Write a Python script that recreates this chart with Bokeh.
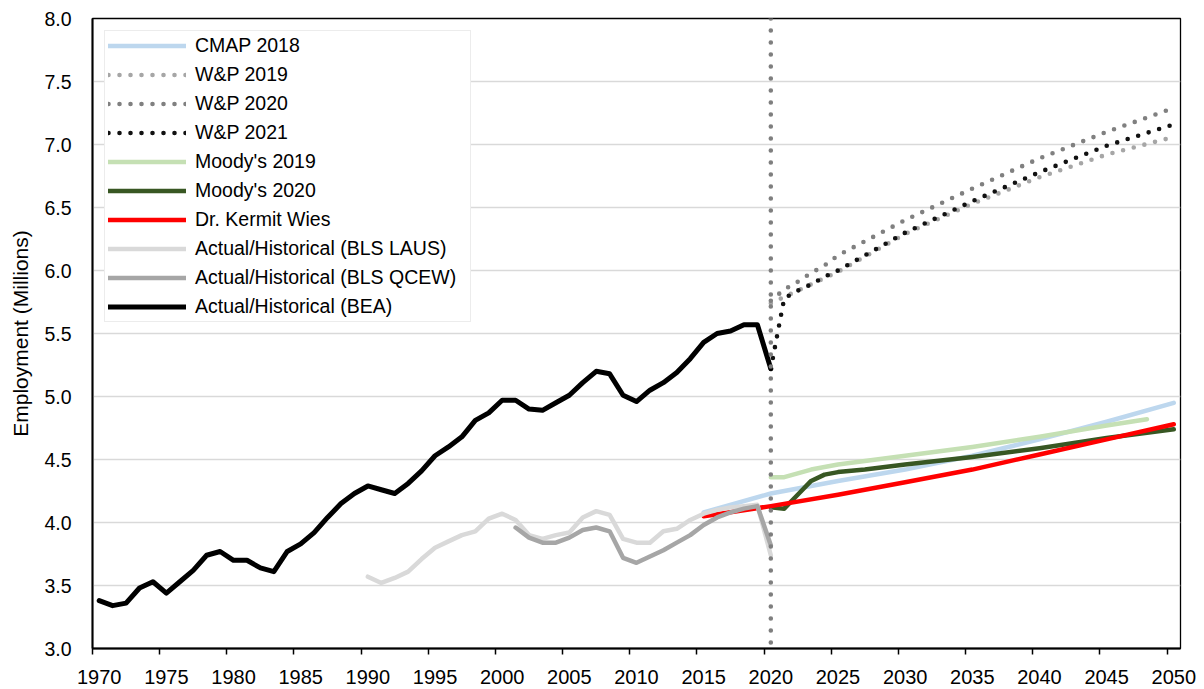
from bokeh.plotting import figure
from bokeh.models import (Range1d, FixedTicker, LinearAxis, Legend, LegendItem, Span,
                          NumeralTickFormatter, BasicTickFormatter)
from bokeh.embed import file_html
from bokeh.resources import INLINE

# ---------------- data ----------------
y_ticks = [3.0, 3.5, 4.0, 4.5, 5.0, 5.5, 6.0, 6.5, 7.0, 7.5, 8.0]
x_label_years = [1970, 1975, 1980, 1985, 1990, 1995, 2000, 2005, 2010, 2015, 2020,
                 2025, 2030, 2035, 2040, 2045, 2050]
divider_year = 2020

cmap2018_years = [2015, 2020, 2025, 2030, 2035, 2040, 2045, 2050]
cmap2018_vals = [4.08, 4.23, 4.33, 4.42, 4.53, 4.66, 4.80, 4.95]

wp2019_years = [2020, 2021, 2022, 2023, 2024, 2025, 2030, 2035, 2040, 2045, 2050]
wp2019_vals = [5.74, 5.79, 5.84, 5.89, 5.94, 5.99, 6.29, 6.53, 6.74, 6.92, 7.06]

wp2020_years = [2020, 2021, 2022, 2023, 2024, 2025, 2030, 2035, 2040, 2045, 2050]
wp2020_vals = [5.76, 5.85, 5.91, 5.98, 6.04, 6.12, 6.40, 6.65, 6.89, 7.10, 7.29]

wp2021_years = [2020, 2021, 2022, 2023, 2024, 2025, 2030, 2035, 2040, 2045, 2050]
wp2021_vals = [5.22, 5.78, 5.84, 5.89, 5.95, 6.00, 6.30, 6.55, 6.78, 6.99, 7.16]

moodys2019_years = [2020, 2021, 2022, 2023, 2024, 2025, 2030, 2035, 2040, 2045, 2048]
moodys2019_vals = [4.36, 4.36, 4.39, 4.42, 4.44, 4.46, 4.53, 4.60, 4.68, 4.77, 4.82]

moodys2020_years = [2020, 2021, 2022, 2023, 2024, 2025, 2026, 2027, 2030, 2035, 2040, 2045, 2050]
moodys2020_vals = [4.12, 4.11, 4.22, 4.33, 4.38, 4.40, 4.41, 4.42, 4.46, 4.52, 4.59, 4.67, 4.74]

wies_years = [2015, 2020, 2025, 2030, 2035, 2040, 2045, 2050]
wies_vals = [4.05, 4.13, 4.22, 4.32, 4.42, 4.54, 4.66, 4.78]

laus_years = list(range(1990, 2021))
laus_vals = [3.57, 3.52, 3.56, 3.61, 3.71, 3.80, 3.85, 3.90, 3.93, 4.03,
             4.07, 4.02, 3.90, 3.87, 3.90, 3.92, 4.04, 4.09, 4.06, 3.87,
             3.84, 3.84, 3.93, 3.95, 4.02, 4.07, 4.10, 4.12, 4.13, 4.14,
             3.74]

qcew_years = list(range(2001, 2021))
qcew_vals = [3.96, 3.88, 3.84, 3.84, 3.88, 3.94, 3.96, 3.93, 3.72,
             3.68, 3.73, 3.78, 3.84, 3.90, 3.98, 4.04, 4.08, 4.11, 4.13,
             3.82]

bea_years = list(range(1970, 2021))
bea_vals = [3.38, 3.34, 3.36, 3.48, 3.53, 3.44, 3.53, 3.62, 3.74, 3.77,
            3.70, 3.70, 3.64, 3.61, 3.77, 3.83, 3.92, 4.04, 4.15, 4.23,
            4.29, 4.26, 4.23, 4.31, 4.41, 4.53, 4.60, 4.68, 4.81, 4.87,
            4.97, 4.97, 4.90, 4.89, 4.95, 5.01, 5.11, 5.20, 5.18, 5.01,
            4.96, 5.05, 5.11, 5.19, 5.30, 5.43, 5.50, 5.52, 5.57, 5.57,
            5.22]

series = [
    ("CMAP 2018", cmap2018_years, cmap2018_vals, "#BDD7EE", None),
    ("W&P 2019", wp2019_years, wp2019_vals, "#A6A6A6", "dot"),
    ("W&P 2020", wp2020_years, wp2020_vals, "#808080", "dot"),
    ("W&P 2021", wp2021_years, wp2021_vals, "#111111", "dot"),
    ("Moody's 2019", moodys2019_years, moodys2019_vals, "#C5E0B4", None),
    ("Moody's 2020", moodys2020_years, moodys2020_vals, "#385723", None),
    ("Dr. Kermit Wies", wies_years, wies_vals, "#FF0000", None),
    ("Actual/Historical (BLS LAUS)", laus_years, laus_vals, "#D9D9D9", None),
    ("Actual/Historical (BLS QCEW)", qcew_years, qcew_vals, "#A6A6A6", None),
    ("Actual/Historical (BEA)", bea_years, bea_vals, "#000000", None),
]

FONT = "Liberation Sans"

# ---------------- figure ----------------
p = figure(width=1204, height=689,
           x_range=Range1d(1969.5, 2050.5), y_range=Range1d(3.0, 8.0),
           output_backend="svg", toolbar_location=None,
           min_border_left=92, min_border_right=24, min_border_top=18, min_border_bottom=41,
           background_fill_color="white", border_fill_color="white")
p.outline_line_color = "#000000"
p.outline_line_width = 1.3
p.xgrid.grid_line_color = None
p.ygrid.ticker = FixedTicker(ticks=y_ticks)
p.ygrid.grid_line_color = "#D9D9D9"
p.ygrid.grid_line_width = 1.6

# y axis
ya = p.yaxis[0]
ya.ticker = FixedTicker(ticks=y_ticks)
ya.formatter = NumeralTickFormatter(format="0.0")
ya.axis_line_color = "#000000"
ya.axis_line_width = 2
ya.major_tick_line_color = None
ya.minor_tick_line_color = None
ya.major_tick_out = 0
ya.major_tick_in = 0
ya.major_label_standoff = 21
ya.major_label_text_font = FONT
ya.major_label_text_font_size = "19.5px"
ya.major_label_text_color = "#000000"
ya.axis_label = "Employment (Millions)"
ya.axis_label_text_font = FONT
ya.axis_label_text_font_size = "21px"
ya.axis_label_text_font_style = "normal"
ya.axis_label_text_color = "#000000"
ya.axis_label_standoff = 9

# x axis: tick marks at category boundaries (no labels)
xa = p.xaxis[0]
boundaries = [y - 0.5 for y in x_label_years]
xa.ticker = FixedTicker(ticks=boundaries, minor_ticks=[])
xa.major_label_overrides = {b: "" for b in boundaries}
xa.major_label_text_font_size = "0px"
xa.major_label_standoff = 0
xa.axis_line_color = "#000000"
xa.axis_line_width = 2
xa.major_tick_line_color = "#000000"
xa.major_tick_line_width = 1.5
xa.major_tick_out = 6
xa.major_tick_in = 0
xa.minor_tick_line_color = None

# x axis labels at category centres
xl = LinearAxis(ticker=FixedTicker(ticks=x_label_years, minor_ticks=[]),
                formatter=BasicTickFormatter(use_scientific=False))
xl.axis_line_color = None
xl.major_tick_line_color = None
xl.minor_tick_line_color = None
xl.major_tick_out = 0
xl.major_tick_in = 0
xl.major_label_standoff = 15
xl.major_label_text_font = FONT
xl.major_label_text_font_size = "20px"
xl.major_label_text_color = "#000000"
p.add_layout(xl, "below")

# ---------------- lines ----------------
items = []
for name, xs, ys, color, style in series:
    if style == "dot":
        r = p.line(xs, ys, line_color=color, line_width=4.6, line_dash="0 11",
                   line_cap="round", line_join="round")
    else:
        w = 5 if name.endswith("(BEA)") else 4.5
        r = p.line(xs, ys, line_color=color, line_width=w, line_join="round",
                   line_cap="round")
    items.append(LegendItem(label=name, renderers=[r]))

span = Span(location=divider_year, dimension="height", line_color="#7F7F7F",
            line_width=4.6, line_dash="0 12", line_cap="round")
p.add_layout(span)

legend = Legend(items=items, location=(12, 326), margin=0, padding=3, spacing=6,
                glyph_width=78, glyph_height=21, label_height=21, label_standoff=9,
                label_width=272,
                label_text_font=FONT, label_text_font_size="19.5px",
                label_text_color="#000000",
                border_line_color="#D9D9D9", border_line_width=1.5,
                background_fill_color="white", background_fill_alpha=1.0)
p.add_layout(legend)

open("out.html", "w").write(file_html(p, INLINE))
